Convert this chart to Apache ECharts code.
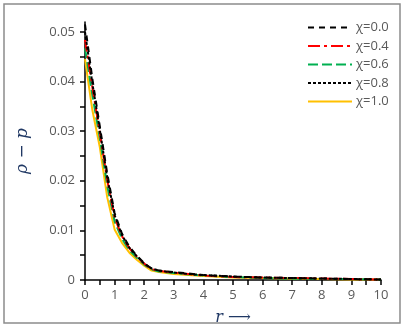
<!DOCTYPE html>
<html>
<head>
<meta charset="utf-8">
<script src="https://cdn.jsdelivr.net/npm/echarts@6/dist/echarts.min.js"></script>
<style>
  html, body { margin: 0; padding: 0; background: #fff; }
  #chart { width: 403px; height: 332px; }
</style>
</head>
<body>
<div id="chart"></div>
<script>
// r positions of the sampled points
const rValues = [0, 0.25, 0.5, 0.75, 1, 1.25, 1.5, 1.75, 2, 2.25, 2.5, 3, 3.5, 4, 5, 6, 7, 8, 9, 10];

// rho - p for each chi
const chi00 = [0.0515, 0.0405, 0.0310, 0.0215, 0.0135, 0.0093, 0.0067, 0.0049, 0.0034, 0.0023, 0.0019, 0.0016, 0.0013, 0.0010, 0.0007, 0.0005, 0.0004, 0.0003, 0.0002, 0.0001];
const chi04 = [0.0484, 0.0388, 0.0297, 0.0202, 0.0126, 0.0088, 0.0064, 0.0047, 0.0033, 0.0022, 0.0018, 0.0015, 0.0012, 0.0009, 0.0006, 0.0005, 0.0004, 0.0003, 0.0002, 0.0001];
const chi06 = [0.0467, 0.0372, 0.0286, 0.0190, 0.0118, 0.0083, 0.0060, 0.0045, 0.0031, 0.0021, 0.0017, 0.0014, 0.0011, 0.0009, 0.0006, 0.0004, 0.0003, 0.0002, 0.0002, 0.0001];
const chi08 = [0.0500, 0.0396, 0.0303, 0.0207, 0.0131, 0.0090, 0.0065, 0.0048, 0.0033, 0.0023, 0.0019, 0.0015, 0.0012, 0.0010, 0.0007, 0.0005, 0.0004, 0.0003, 0.0002, 0.0001];
const chi10 = [0.0445, 0.0342, 0.0268, 0.0167, 0.0102, 0.0075, 0.0055, 0.0041, 0.0029, 0.0019, 0.0016, 0.0012, 0.0010, 0.0008, 0.0005, 0.0004, 0.0003, 0.0002, 0.0001, 0.0001];

const legendNames = ['χ=0.0', 'χ=0.4', 'χ=0.6', 'χ=0.8', 'χ=1.0'];
const yTicks = [0, 0.005, 0.01, 0.015, 0.02, 0.025, 0.03, 0.035, 0.04, 0.045, 0.05];
const yLabels = [0, 0.01, 0.02, 0.03, 0.04, 0.05];

const pairs = vals => rValues.map((r, i) => [r, vals[i]]);

const makeLine = (name, vals, color, dash, width) => ({
  name,
  type: 'line',
  data: pairs(vals),
  symbol: 'none',
  smooth: false,
  lineStyle: { color, width, type: dash },
  itemStyle: { color }
});

const chart = echarts.init(document.getElementById('chart'));
chart.setOption({
  animation: false,
  backgroundColor: '#fff',
  graphic: [{
    type: 'rect',
    shape: { x: 4, y: 4, width: 396, height: 319 },
    style: { fill: 'none', stroke: '#8c8c8c', lineWidth: 1.5 }
  }],
  grid: { left: 85, right: 22, top: 22, bottom: 52 },
  legend: {
    data: legendNames,
    orient: 'vertical',
    left: 302,
    top: 16,
    itemWidth: 44,
    itemHeight: 14,
    itemGap: 5.5,
    itemStyle: { opacity: 0 },
    textStyle: { color: '#595959', fontSize: 13, fontFamily: 'Open Sans', padding: [0, 0, 0, -1] }
  },
  xAxis: {
    type: 'value',
    min: 0,
    max: 10,
    interval: 0.5,
    name: 'r ⟶',
    nameLocation: 'middle',
    nameGap: 30,
    nameTextStyle: { color: '#203864', fontSize: 16, fontStyle: 'italic', fontFamily: 'DejaVu Serif' },
    splitLine: { show: false },
    axisLine: { lineStyle: { color: '#000', width: 1.5 } },
    axisTick: { length: 5, lineStyle: { color: '#000', width: 1.5 } },
    axisLabel: {
      color: '#595959', fontSize: 13, fontFamily: 'Open Sans', margin: 9,
      formatter: v => (Number.isInteger(v) ? String(v) : '')
    }
  },
  yAxis: {
    type: 'value',
    min: 0,
    max: 0.052,
    name: 'ρ − p',
    nameLocation: 'middle',
    nameRotate: 90,
    nameGap: 54,
    nameTextStyle: { color: '#203864', fontSize: 17, fontStyle: 'italic', fontFamily: 'DejaVu Serif' },
    splitLine: { show: false },
    axisLine: { show: true, lineStyle: { color: '#000', width: 1.5 } },
    axisTick: { show: true, length: 5, customValues: yTicks, lineStyle: { color: '#000', width: 1.5 } },
    axisLabel: {
      color: '#595959', fontSize: 13, fontFamily: 'Open Sans', margin: 10,
      customValues: yLabels,
      formatter: v => (v === 0 ? '0' : v.toFixed(2))
    }
  },
  series: [
    makeLine('χ=1.0', chi10, '#FFC000', 'solid', 2),
    makeLine('χ=0.6', chi06, '#00B050', [10, 4], 2),
    makeLine('χ=0.4', chi04, '#FF0000', [12, 4, 3, 4], 2),
    makeLine('χ=0.8', chi08, '#000000', [3, 2], 2),
    makeLine('χ=0.0', chi00, '#000000', [6, 5], 2)
  ]
});
</script>
</body>
</html>
